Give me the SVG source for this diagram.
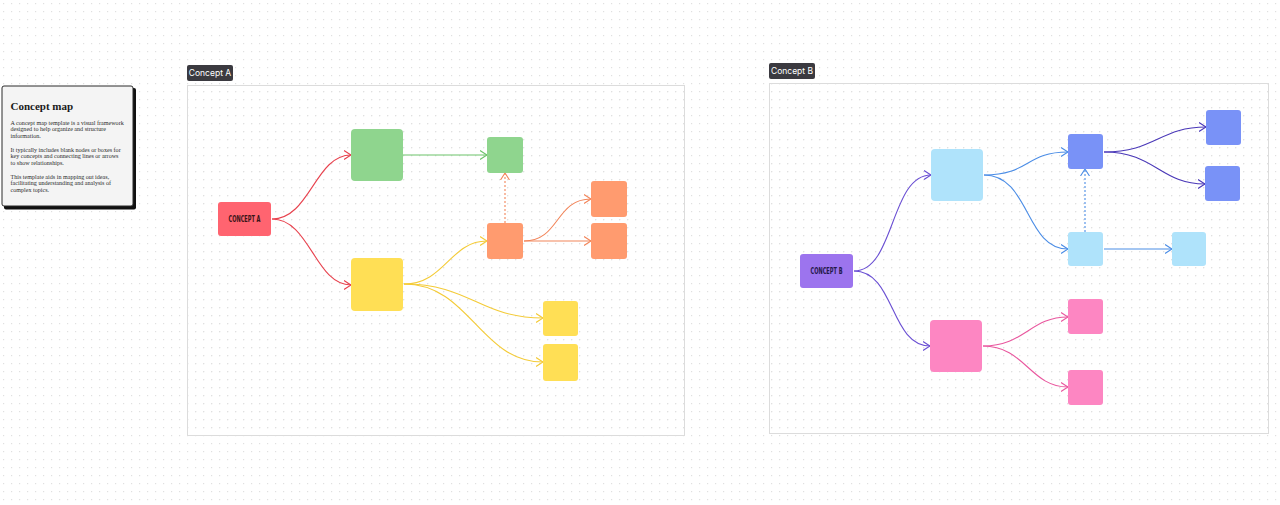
<svg xmlns="http://www.w3.org/2000/svg" width="1280" height="505" viewBox="0 0 1280 505">
  <defs>
    <pattern id="dots" x="0" y="0" width="8" height="8" patternUnits="userSpaceOnUse">
      <rect x="3" y="3" width="1.2" height="1.2" fill="#e0e0e0"/>
    </pattern>
    <marker id="mRed" viewBox="0 0 8 10" refX="7" refY="5" markerWidth="8" markerHeight="10" markerUnits="userSpaceOnUse" orient="auto"><path d="M0,0.5 L7,5 L0,9.5" fill="none" stroke="#e8434f" stroke-width="1.1"/></marker>
    <marker id="mGreen" viewBox="0 0 8 10" refX="7" refY="5" markerWidth="8" markerHeight="10" markerUnits="userSpaceOnUse" orient="auto"><path d="M0,0.5 L7,5 L0,9.5" fill="none" stroke="#6cc36a" stroke-width="1.1"/></marker>
    <marker id="mOrange" viewBox="0 0 8 10" refX="7" refY="5" markerWidth="8" markerHeight="10" markerUnits="userSpaceOnUse" orient="auto"><path d="M0,0.5 L7,5 L0,9.5" fill="none" stroke="#f2855a" stroke-width="1.1"/></marker>
    <marker id="mYellow" viewBox="0 0 8 10" refX="7" refY="5" markerWidth="8" markerHeight="10" markerUnits="userSpaceOnUse" orient="auto"><path d="M0,0.5 L7,5 L0,9.5" fill="none" stroke="#f4cb37" stroke-width="1.1"/></marker>
    <marker id="mPurple" viewBox="0 0 8 10" refX="7" refY="5" markerWidth="8" markerHeight="10" markerUnits="userSpaceOnUse" orient="auto"><path d="M0,0.5 L7,5 L0,9.5" fill="none" stroke="#6a4fd3" stroke-width="1.1"/></marker>
    <marker id="mBlue" viewBox="0 0 8 10" refX="7" refY="5" markerWidth="8" markerHeight="10" markerUnits="userSpaceOnUse" orient="auto"><path d="M0,0.5 L7,5 L0,9.5" fill="none" stroke="#4b8de6" stroke-width="1.1"/></marker>
    <marker id="mIndigo" viewBox="0 0 8 10" refX="7" refY="5" markerWidth="8" markerHeight="10" markerUnits="userSpaceOnUse" orient="auto"><path d="M0,0.5 L7,5 L0,9.5" fill="none" stroke="#4a38b8" stroke-width="1.1"/></marker>
    <marker id="mPink" viewBox="0 0 8 10" refX="7" refY="5" markerWidth="8" markerHeight="10" markerUnits="userSpaceOnUse" orient="auto"><path d="M0,0.5 L7,5 L0,9.5" fill="none" stroke="#e9589f" stroke-width="1.1"/></marker>
  </defs>
  <style>
    .frame { fill: url(#dots); stroke: #dcdcdc; stroke-width: 1; }
    .tab { fill: #3b3a40; }
    .tabText { font-family: Inter, "Liberation Sans", sans-serif; font-size: 8.5px; fill: #ffffff; }
    .concept { font-family: "DejaVu Sans Condensed", "Liberation Sans Narrow", "Liberation Sans", sans-serif; font-weight: bold; font-size: 8.5px; }
    .e { fill: none; stroke-width: 1.1; }
    .cardTitle { font-family: "Liberation Serif", "DejaVu Serif", serif; font-weight: bold; font-size: 11px; fill: #1a1a1a; }
    .cardText { font-family: "Liberation Serif", "DejaVu Serif", serif; font-size: 6.1px; fill: #2a2a2a; }
  </style>

  <rect x="0" y="0" width="1280" height="505" fill="#ffffff"/>
  <rect x="0" y="0" width="1280" height="505" fill="url(#dots)"/>

  <!-- info card -->
  <g id="info-card">
    <rect x="4" y="88" width="132" height="121.5" rx="2" fill="#111111"/>
    <rect x="2" y="86" width="131" height="120" rx="2" fill="#f4f4f4" stroke="#2a2a2a" stroke-width="1"/>
    <text class="cardTitle" x="10.5" y="110">Concept map</text>
    <text class="cardText" x="10.5" y="125">A concept map template is a visual framework</text>
    <text class="cardText" x="10.5" y="131.3">designed to help organize and structure</text>
    <text class="cardText" x="10.5" y="137.6">information.</text>
    <text class="cardText" x="10.5" y="152">It typically includes blank nodes or boxes for</text>
    <text class="cardText" x="10.5" y="158.3">key concepts and connecting lines or arrows</text>
    <text class="cardText" x="10.5" y="164.6">to show relationships.</text>
    <text class="cardText" x="10.5" y="179">This template aids in mapping out ideas,</text>
    <text class="cardText" x="10.5" y="185.3">facilitating understanding and analysis of</text>
    <text class="cardText" x="10.5" y="191.6">complex topics.</text>
  </g>

  <!-- frames -->
  <g id="frame-a">
    <rect class="frame" x="187.5" y="85.5" width="497" height="350"/>
    <rect class="tab" x="187" y="65" width="46" height="16" rx="2"/>
    <text class="tabText" x="210" y="76" text-anchor="middle">Concept A</text>
  </g>
  <g id="frame-b">
    <rect class="frame" x="769.5" y="83.5" width="499" height="350"/>
    <rect class="tab" x="769" y="63" width="46" height="16" rx="2"/>
    <text class="tabText" x="792" y="74" text-anchor="middle">Concept B</text>
  </g>

  <!-- connectors -->
  <g id="connectors">
    <!-- Concept A map -->
    <path class="e" stroke="#e8434f" marker-end="url(#mRed)" d="M272,219 C310,219 315,155 351,155"/>
    <path class="e" stroke="#e8434f" marker-end="url(#mRed)" d="M272,219 C310,219 315,285 351,285"/>
    <path class="e" stroke="#6cc36a" marker-end="url(#mGreen)" d="M403,155 L487,155"/>
    <path class="e" stroke="#f2855a" stroke-dasharray="2,2" marker-end="url(#mOrange)" d="M505,223 L505,173"/>
    <path class="e" stroke="#f4cb37" marker-end="url(#mYellow)" d="M404,284 C445,284 450,241 487,241"/>
    <path class="e" stroke="#f4cb37" marker-end="url(#mYellow)" d="M404,284 C470,284 480,318 543,318"/>
    <path class="e" stroke="#f4cb37" marker-end="url(#mYellow)" d="M404,284 C470,284 480,362 543,362"/>
    <path class="e" stroke="#f2855a" marker-end="url(#mOrange)" d="M524,241 C560,241 555,199 591,199"/>
    <path class="e" stroke="#f2855a" marker-end="url(#mOrange)" d="M524,241 L591,241"/>

    <!-- Concept B map -->
    <path class="e" stroke="#6a4fd3" marker-end="url(#mPurple)" d="M854,271 C895,271 890,175 931,175"/>
    <path class="e" stroke="#6a4fd3" marker-end="url(#mPurple)" d="M854,271 C895,271 890,346 930,346"/>
    <path class="e" stroke="#4b8de6" marker-end="url(#mBlue)" d="M984,175 C1030,175 1025,152 1068,152"/>
    <path class="e" stroke="#4b8de6" marker-end="url(#mBlue)" d="M984,175 C1030,175 1025,249 1068,249"/>
    <path class="e" stroke="#4b8de6" stroke-dasharray="2,2" marker-end="url(#mBlue)" d="M1085,232 L1085,169"/>
    <path class="e" stroke="#4b8de6" marker-end="url(#mBlue)" d="M1104,249 L1172,249"/>
    <path class="e" stroke="#4a38b8" marker-end="url(#mIndigo)" d="M1104,152 C1155,152 1160,127 1206,127"/>
    <path class="e" stroke="#4a38b8" marker-end="url(#mIndigo)" d="M1104,152 C1155,152 1160,184 1205,184"/>
    <path class="e" stroke="#e9589f" marker-end="url(#mPink)" d="M983,346 C1025,346 1030,317 1068,317"/>
    <path class="e" stroke="#e9589f" marker-end="url(#mPink)" d="M983,346 C1025,346 1030,387 1068,387"/>
  </g>

  <!-- Concept A nodes -->
  <g id="concept-a"><rect x="218" y="202" width="53" height="34" rx="3" fill="#ff6470"/><text class="concept" x="244.5" y="222.2" text-anchor="middle" fill="#3a1418" textLength="32" lengthAdjust="spacingAndGlyphs">CONCEPT A</text></g>
  <g id="a-green-1"><rect x="351" y="129" width="52" height="52" rx="4" fill="#8fd58e"/></g>
  <g id="a-green-2"><rect x="487" y="137" width="36" height="36" rx="3" fill="#8fd58e"/></g>
  <g id="a-orange-1"><rect x="487" y="223" width="36" height="36" rx="3" fill="#ff9b6f"/></g>
  <g id="a-orange-2"><rect x="591" y="181" width="36" height="36" rx="3" fill="#ff9b6f"/></g>
  <g id="a-orange-3"><rect x="591" y="223" width="36" height="36" rx="3" fill="#ff9b6f"/></g>
  <g id="a-yellow-1"><rect x="351" y="258" width="52" height="53" rx="4" fill="#ffdf55"/></g>
  <g id="a-yellow-2"><rect x="543" y="301" width="35" height="35" rx="3" fill="#ffdf55"/></g>
  <g id="a-yellow-3"><rect x="543" y="344" width="35" height="37" rx="3" fill="#ffdf55"/></g>

  <!-- Concept B nodes -->
  <g id="concept-b"><rect x="800" y="254" width="53" height="34" rx="3" fill="#9c74ee"/><text class="concept" x="826.5" y="274.2" text-anchor="middle" fill="#24184a" textLength="32" lengthAdjust="spacingAndGlyphs">CONCEPT B</text></g>
  <g id="b-lightblue-1"><rect x="931" y="149" width="52" height="52" rx="4" fill="#afe3fb"/></g>
  <g id="b-blue-1"><rect x="1068" y="134" width="35" height="35" rx="3" fill="#7992f7"/></g>
  <g id="b-blue-2"><rect x="1206" y="110" width="35" height="35" rx="3" fill="#7992f7"/></g>
  <g id="b-blue-3"><rect x="1205" y="166" width="35" height="35" rx="3" fill="#7992f7"/></g>
  <g id="b-lightblue-2"><rect x="1068" y="232" width="35" height="34" rx="3" fill="#afe3fb"/></g>
  <g id="b-lightblue-3"><rect x="1172" y="232" width="34" height="34" rx="3" fill="#afe3fb"/></g>
  <g id="b-pink-1"><rect x="930" y="320" width="52" height="52" rx="4" fill="#fd86c2"/></g>
  <g id="b-pink-2"><rect x="1068" y="299" width="35" height="35" rx="3" fill="#fd86c2"/></g>
  <g id="b-pink-3"><rect x="1068" y="370" width="35" height="35" rx="3" fill="#fd86c2"/></g>
</svg>
